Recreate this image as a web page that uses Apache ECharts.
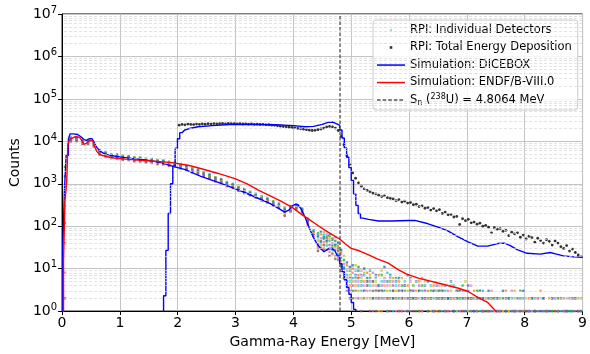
<!DOCTYPE html>
<html>
<head>
<meta charset="utf-8">
<script src="https://cdn.jsdelivr.net/npm/echarts@6/dist/echarts.min.js"></script>
<style>
  html, body { margin: 0; padding: 0; background: #fff; }
  #chart { width: 590px; height: 354px; }
</style>
</head>
<body>
<div id="chart"></div>
<script>
// DICEBOX, single detector response (step edges kept where the histogram is steep)
const dicDetE = [0.01,0.01,0.04,0.04,0.07,0.07,0.11,0.11,0.14,0.14,
  0.2,0.27,0.32,0.38,0.42,0.47,0.52,0.56,0.6,0.65,
  0.72,0.8,0.9,1.0,1.2,1.44,1.6,1.78,1.95,2.13,
  2.4,2.7,3.0,3.2,3.4,3.6,3.75,3.85,3.92,3.98,
  4.04,4.08,4.13,4.2,4.27,4.33,4.4,4.47,4.53,4.6,
  4.66,4.72,4.76,4.8,4.8,4.84,4.84,4.88,4.88,4.92,
  4.92,4.96,4.96,5.0,5.0,5.04,5.04,5.08,5.08];
const dicDetY = [0.1,25,25,650,650,4700,4700,11500,11500,15000,
  15000,14500,13000,11000,10500,11500,11500,9000,7200,6000,
  5200,4800,4500,4300,3950,3650,3380,2950,2500,2150,
  1500,1080,760,590,450,340,260,215,240,300,
  330,320,260,165,95,60,40,30,25,29,
  30,26,20,20,13,13,8.5,8.5,5.5,5.5,
  3.6,3.6,2.5,2.5,1.6,1.6,1.1,1.1,0.1];

// DICEBOX, total energy deposition
const dicTotE = [1.755,1.755,1.795,1.795,1.835,1.835,1.875,1.875,1.915,1.915,
  1.955,1.955,1.995,1.995,2.035,2.035,2.075,2.12,2.2,2.35,
  2.6,2.9,3.3,3.7,4.0,4.2,4.35,4.5,4.6,4.68,
  4.74,4.8,4.8,4.84,4.84,4.88,4.88,4.92,4.92,4.96,
  4.96,5.0,5.0,5.04,5.04,5.08,5.08,5.12,5.12,5.16,
  5.16,5.2,5.3,5.47,5.7,5.99,6.1,6.33,6.5,6.67,
  6.85,7.02,7.19,7.36,7.53,7.65,7.75,7.87,8.04,8.27,
  8.44,8.55,8.67,8.85,9.0];
const dicTotY = [0.1,2.3,2.3,27,27,200,200,1000,1000,2600,
  2600,6900,6900,11500,11500,16000,16000,18500,20000,22000,
  23500,25000,25000,24500,23500,22000,22500,25000,28000,28500,
  26000,24000,18500,18500,12000,12000,7000,7000,4200,4200,
  2400,2400,1200,1200,580,580,310,310,200,200,
  155,155,145,133,133,136,137,114,95,78,
  56,43,34,34,39,40,35,28,23,22,
  24,22,20,19,18.5];

// ENDF/B-VIII.0 simulation
const endfE = [0.025,0.025,0.05,0.05,0.08,0.08,0.1,0.1,0.13,0.13,
  0.16,0.16,0.22,0.3,0.34,0.38,0.42,0.47,0.53,0.56,
  0.6,0.65,0.75,0.9,1.1,1.3,1.6,1.9,2.2,2.44,
  2.7,3.0,3.2,3.41,3.6,3.8,3.99,4.14,4.27,4.4,
  4.55,4.7,4.8,4.9,5.0,5.15,5.3,5.45,5.64,5.81,
  5.95,6.16,6.5,6.84,7.02,7.19,7.36,7.47,7.55,7.65];
const endfY = [0.1,15,15,400,400,1100,1100,8500,8500,11000,
  11000,12200,12800,12500,10500,8500,9000,10300,10500,7800,
  5800,4900,4400,4050,3800,3600,3380,3150,2700,2200,
  1750,1300,1000,690,520,380,270,190,145,110,
  80,60,50,38,30,26,21,17,13.5,9.5,
  7.5,6.0,4.6,3.5,2.9,2.1,1.6,1.1,0.85,0.6];

// RPI total energy deposition (black dots)
const totE = [2.025,2.075,2.125,2.175,2.225,2.275,2.325,2.375,2.425,2.475,
  2.525,2.575,2.625,2.675,2.725,2.775,2.825,2.875,2.925,2.975,
  3.025,3.075,3.125,3.175,3.225,3.275,3.325,3.375,3.425,3.475,
  3.525,3.575,3.625,3.675,3.725,3.775,3.825,3.875,3.925,3.975,
  4.025,4.075,4.125,4.175,4.225,4.275,4.325,4.375,4.425,4.475,
  4.525,4.575,4.625,4.675,4.725,4.775,4.825,4.875,4.925,4.975,
  5.025,5.075,5.125,5.175,5.225,5.275,5.325,5.375,5.425,5.475,
  5.525,5.575,5.625,5.675,5.725,5.775,5.825,5.875,5.925,5.975,
  6.025,6.075,6.125,6.175,6.225,6.275,6.325,6.375,6.425,6.475,
  6.525,6.575,6.625,6.675,6.725,6.775,6.825,6.875,6.925,6.975,
  7.025,7.075,7.125,7.175,7.225,7.275,7.325,7.375,7.425,7.475,
  7.525,7.575,7.625,7.675,7.725,7.775,7.825,7.875,7.925,7.975,
  8.025,8.075,8.125,8.175,8.225,8.275,8.325,8.375,8.425,8.475,
  8.525,8.575,8.625,8.675,8.725,8.775,8.825,8.875,8.925,8.975];
const totY = [24000,25000,24500,25500,25000,24800,25500,25200,25800,25300,
  26000,25500,26200,25800,26000,26300,25900,26400,26000,26200,
  25800,26100,25600,25900,25400,25700,25200,25400,24900,25100,
  24500,24600,24000,23800,23200,22800,22300,22000,21500,21200,
  20800,20300,19800,19300,18800,18300,18000,18200,18800,19500,
  20500,21800,22500,22000,20500,18000,13000,8300,4600,2900,
  1800,1350,1050,880,760,700,650,600,580,540,
  500,520,470,455,440,400,420,370,390,350,
  360,320,330,290,300,265,275,240,260,230,
  245,200,215,185,190,165,170,110,150,135,
  145,120,125,112,118,100,105,95,70,92,
  85,88,76,80,60,72,66,70,55,62,
  50,58,54,42,52,46,40,48,44,36,
  45,40,33,30,35,26,29,24,21,19];

// RPI individual detectors: energy bins and counts (0 = empty bin)
const detE = [0.05,0.15,0.25,0.35,0.45,0.55,0.65,0.75,0.85,0.95,
  1.05,1.15,1.25,1.35,1.45,1.55,1.65,1.75,1.85,1.95,
  2.05,2.15,2.25,2.35,2.45,2.55,2.65,2.75,2.85,2.95,
  3.05,3.15,3.25,3.35,3.45,3.55,3.65,3.75,3.85,3.95,
  4.05,4.15,4.25,4.35,
  4.425,4.475,4.525,4.575,4.625,4.675,4.725,4.775,4.825,4.875,4.925,4.975,
  5.025,5.075,5.125,5.175,5.225,5.275,
  5.325,5.375,5.425,5.475,5.525,5.575,5.625,5.675,5.725,5.775,
  5.825,5.875,5.925,5.975,6.025,6.075,6.125,6.175,6.225,6.275,6.325,6.375,6.425,6.475,
  6.525,6.575,6.625,6.675,6.725,6.775,6.825,6.875,6.925,6.975,
  7.025,7.075,7.125,7.175,7.225,7.275,7.325,7.375,7.425,7.475,
  7.525,7.575,7.625,7.675,7.725,7.775,7.825,7.875,7.925,7.975,
  8.025,8.075,8.125,8.175,8.225,8.275,8.325,8.375,8.425,8.475,
  8.525,8.575,8.625,8.675,8.725,8.775,8.825,8.875,8.925,8.975];

const det1 = [900,11700,11500,10100,9800,8800,5600,5200,4550,4600,
  4150,4240,3850,3920,3550,3630,3300,3340,3000,3020,
  2650,2490,2100,2010,1700,1570,1300,1220,1000,930,
  770,710,590,550,460,430,350,320,240,280,
  290,245,130,75,
  55,40,62,35, 45,28,38,22, 18,11,7,5,
  6,9,4,3,7,5,
  4,2,6,3,5,2,8,3,1,4,
  3,2,5,1,3,4,2,0,3,2,1,4,2,3,
  2,1,3,0,2,4,1,2,0,3,1,2,2,0,1,3,0,2,1,0,
  1,2,0,1,0,2,1,0,0,2,1,0,1,0,2,0,1,0,0,1,2,0,1,0,0,1,0,2,0,1];
const det2 = [40,10700,10600,9200,9000,8050,5150,4750,4200,4200,
  3820,3880,3540,3590,3270,3320,3040,3060,2760,2760,
  2440,2280,1930,1840,1560,1440,1200,1120,920,850,
  710,650,540,500,420,390,320,290,190,240,
  265,220,115,65,
  38,65,30,48, 30,52,20,34, 25,8,12,4,
  10,4,7,2,5,8,
  2,5,3,7,1,4,2,6,3,2,
  5,1,2,4,2,0,3,5,1,2,3,0,4,1,
  3,2,0,1,4,2,0,3,1,2,0,2,3,1,0,2,1,0,2,1,
  2,0,1,3,1,0,2,0,1,1,0,2,0,1,0,3,0,1,2,0,0,1,0,2,1,0,1,0,0,2];
const det3 = [2500,11400,12700,9900,10800,8600,6200,5100,5000,4500,
  4570,4160,4240,3850,3910,3560,3630,3280,3300,2960,
  2920,2440,2310,1980,1870,1540,1430,1200,1100,920,
  850,700,650,540,510,420,390,310,280,275,
  320,240,150,72,
  68,45,50,58, 58,35,45,30, 12,16,5,9,
  3,6,11,5,2,4,
  6,3,2,4,7,3,1,5,2,6,
  2,4,3,0,6,2,1,3,4,0,2,3,1,2,
  1,3,2,2,0,1,3,2,4,0,2,1,0,3,2,1,0,1,2,0,
  0,1,2,0,2,1,0,1,3,0,1,0,2,1,0,0,2,1,0,1,0,2,0,1,0,1,2,0,1,0];
const det4 = [8,11200,10900,9700,9300,8500,5300,5000,4300,4400,
  3940,4080,3660,3770,3370,3490,3140,3210,2850,2910,
  2520,2400,2000,1940,1620,1510,1240,1170,950,900,
  730,680,560,530,440,410,330,310,210,270,
  275,235,120,70,
  30,52,42,66, 25,40,55,18, 22,13,9,3,
  8,2,5,9,4,3,
  3,8,4,2,3,6,4,2,5,1,
  4,3,1,2,5,3,0,2,6,3,0,2,3,0,
  4,0,2,3,1,0,2,1,3,1,0,4,1,2,0,1,2,0,3,1,
  1,0,0,2,1,3,0,1,2,0,0,1,1,0,2,1,0,0,1,0,2,0,0,1,1,0,2,0,1,1];
const det5 = [300,10900,12400,9400,10600,8200,6050,4850,4900,4300,
  4480,3960,4160,3660,3830,3390,3560,3120,3240,2820,
  2860,2330,2270,1880,1840,1470,1400,1140,1080,870,
  830,660,640,510,500,400,380,300,260,260,
  310,230,140,68,
  46,35,72,40, 50,24,32,42, 15,20,6,7,
  5,12,3,6,8,2,
  7,4,5,1,9,2,3,4,6,3,
  1,6,2,3,0,4,2,1,2,5,2,1,0,3,
  2,4,1,0,3,2,1,0,2,5,1,0,2,1,3,0,2,1,0,2,
  0,2,1,0,1,0,3,0,1,0,2,1,0,0,1,2,0,1,0,0,1,1,0,0,2,0,1,0,2,0];
const det6 = [2,10300,10100,8900,8600,7800,4900,4600,4000,4100,
  3650,3760,3390,3480,3120,3210,2900,2960,2640,2680,
  2330,2210,1850,1790,1500,1390,1140,1080,880,830,
  680,630,520,490,400,380,310,280,175,230,
  255,215,110,62,
  26,30,36,28, 20,30,17,26, 9,6,4,2,
  2,3,6,1,3,5,
  1,2,1,3,2,0,2,1,3,0,
  1,2,0,1,2,1,0,1,0,2,1,0,1,0,
  1,0,1,2,0,1,0,0,1,0,2,0,1,0,0,1,0,1,0,0,
  1,0,0,1,0,0,1,0,0,0,1,0,0,1,0,0,0,1,0,0,1,0,0,0,1,0,0,0,1,0];
const det7 = [1500,12300,11800,10600,10100,9300,5800,5500,4700,4900,
  4270,4480,3970,4140,3660,3830,3400,3530,3090,3190,
  2730,2630,2160,2130,1750,1660,1340,1290,1030,990,
  790,750,610,580,470,450,360,340,250,300,
  300,260,135,80,
  60,75,55,45, 62,48,36,40, 28,10,14,11,
  12,7,9,4,10,6,
  9,5,7,4,3,11,5,7,2,5,
  6,3,4,7,3,2,5,3,2,4,5,2,3,4,
  3,2,4,2,5,1,2,3,2,1,4,2,1,2,3,2,1,3,0,2,
  2,1,3,1,2,0,1,2,1,3,0,1,2,1,0,1,2,0,1,2,0,1,2,0,1,0,1,2,0,1];
const det8 = [120,9900,11200,8600,9500,7500,5400,4400,4400,3900,
  4030,3600,3730,3330,3440,3080,3200,2840,2910,2570,
  2570,2120,2040,1710,1650,1330,1260,1040,970,790,
  750,600,570,470,450,360,340,270,220,220,
  280,205,125,60,
  34,44,28,52, 36,22,28,16, 11,7,3,6,
  4,5,2,7,3,4,
  5,1,3,2,4,5,1,2,4,2,
  3,1,4,2,1,3,2,4,1,3,0,2,1,2,
  2,3,1,1,2,0,3,1,0,2,3,1,0,1,2,1,0,2,1,0,
  1,1,0,2,0,1,1,0,2,1,0,1,0,2,1,0,1,0,0,2,0,1,0,1,0,2,0,1,0,0];
const detectors = [det1, det2, det3, det4, det5, det6, det7, det8];
const detColors = ['#17becf', '#ff7f0e', '#2ca02c', '#e377c2', '#bcbd22', '#8c564b', '#1f77b4', '#9467bd'];

const snEnergy = 4.8064;
const xTicks = [0, 1, 2, 3, 4, 5, 6, 7, 8, 9];

const NAME_DET = 'RPI: Individual Detectors';
const NAME_TOT = 'RPI: Total Energy Deposition';
const NAME_DIC = 'Simulation: DICEBOX';
const NAME_ENDF = 'Simulation: ENDF/B-VIII.0';
const NAME_SN = 'Sn';

const FONT = 'DejaVu Sans';
const pairs = (xs, ys) => xs.map((x, i) => [x, ys[i]]);

// legend glyphs (a 28x14 box so the icons keep their size)
const BOX = 'path://M0,0M28,14';
const ICON_DOT_S = BOX + 'M13.2,6.2h1.6v1.6h-1.6z';
const ICON_DOT_L = BOX + 'M12.7,5.7h2.6v2.6h-2.6z';
const ICON_LINE = BOX + 'M0,6.3h28v1.5h-28z';
const ICON_DASH = BOX + 'M0,6.4h3.6v1.2h-3.6zM5.6,6.4h3.6v1.2h-3.6zM11.2,6.4h3.6v1.2h-3.6zM16.8,6.4h3.6v1.2h-3.6zM22.4,6.4h3.6v1.2h-3.6z';

// matplotlib-style minor grid on the log axis (2..9 per decade)
const minorGrid = [];
for (let d = 1; d < 1e7; d *= 10) {
  for (let m = 2; m <= 9; m++) minorGrid.push({ yAxis: m * d });
}

const series = [];
series.push({
  type: 'line', data: [], silent: true, z: 0, symbol: 'none',
  markLine: {
    silent: true, symbol: ['none', 'none'], label: { show: false },
    lineStyle: { color: '#d6d6d6', type: [3, 2], dashOffset: 3, width: 0.7 },
    emphasis: { disabled: true },
    animation: false,
    data: minorGrid
  }
});
detectors.forEach((arr, k) => {
  series.push({
    name: NAME_DET, type: 'scatter', z: 2,
    symbol: 'rect', symbolSize: 2.4,
    itemStyle: { color: detColors[k] },
    data: detE.map((e, i) => arr[i] > 0 ? [e, arr[i]] : null).filter(Boolean)
  });
});
series.push({
  name: NAME_TOT, type: 'scatter', z: 3,
  symbol: 'circle', symbolSize: 2.8,
  itemStyle: { color: '#000' },
  data: pairs(totE, totY)
});
series.push({
  name: NAME_DIC, type: 'line', z: 4, showSymbol: false, symbol: 'none',
  lineStyle: { color: '#0000ff', width: 1.4 }, itemStyle: { color: '#0000ff' },
  data: pairs(dicDetE, dicDetY)
});
series.push({
  name: NAME_DIC, type: 'line', z: 4, showSymbol: false, symbol: 'none',
  lineStyle: { color: '#0000ff', width: 1.4 }, itemStyle: { color: '#0000ff' },
  data: pairs(dicTotE, dicTotY)
});
series.push({
  name: NAME_ENDF, type: 'line', z: 5, showSymbol: false, symbol: 'none',
  lineStyle: { color: '#ff0000', width: 1.4 }, itemStyle: { color: '#ff0000' },
  data: pairs(endfE, endfY)
});
series.push({
  name: NAME_SN, type: 'line', z: 6, showSymbol: false, symbol: 'none',
  lineStyle: { color: '#404040', width: 1.2, type: [3.5, 2] }, itemStyle: { color: '#404040' },
  data: [[snEnergy, 1], [snEnergy, 1e7]]
});

const chart = echarts.init(document.getElementById('chart'), null, { renderer: 'canvas' });
chart.setOption({
  animation: false,
  backgroundColor: '#fff',
  textStyle: { fontFamily: FONT },
  grid: { left: 61, right: 5, top: 14, bottom: 39, show: true, borderColor: '#000', borderWidth: 1, backgroundColor: 'transparent' },
  legend: {
    left: 373, top: 20, orient: 'vertical',
    itemWidth: 28, itemHeight: 14, itemGap: 3.5,
    padding: [3, 6, 3, 4],
    backgroundColor: 'rgba(255,255,255,0.85)', borderColor: '#cccccc', borderWidth: 1, borderRadius: 3,
    selectedMode: false,
    textStyle: {
      fontFamily: FONT, fontSize: 11.5, color: '#000',
      rich: {
        t: { fontFamily: FONT, fontSize: 11.5, color: '#000', lineHeight: 14 },
        sub: { fontFamily: FONT, fontSize: 8, color: '#000', lineHeight: 8, verticalAlign: 'bottom' },
        sup: { fontFamily: FONT, fontSize: 8, color: '#000', lineHeight: 8, verticalAlign: 'top' }
      }
    },
    formatter: name => name === NAME_SN
      ? '{t|S}{sub|n}{t| (}{sup|238}{t|U) = 4.8064 MeV}'
      : name,
    data: [
      { name: NAME_DET, icon: ICON_DOT_S, itemStyle: { color: '#3aa0d8' } },
      { name: NAME_TOT, icon: ICON_DOT_L, itemStyle: { color: '#000' } },
      { name: NAME_DIC, icon: ICON_LINE, itemStyle: { color: '#0000ff' } },
      { name: NAME_ENDF, icon: ICON_LINE, itemStyle: { color: '#ff0000' } },
      { name: NAME_SN, icon: ICON_DASH, itemStyle: { color: '#000' } }
    ]
  },
  xAxis: {
    type: 'value', min: 0, max: 9, interval: 1,
    name: 'Gamma-Ray Energy [MeV]', nameLocation: 'middle', nameGap: 18,
    nameTextStyle: { fontFamily: FONT, fontSize: 14, color: '#000' },
    axisLine: { show: true, onZero: false, lineStyle: { color: '#000', width: 1 } },
    axisTick: { show: true, inside: false, length: 4, lineStyle: { color: '#000' } },
    axisLabel: { fontFamily: FONT, fontSize: 14, color: '#000', margin: 5,
      formatter: v => xTicks.includes(v) ? String(v) : '' },
    splitLine: { show: true, lineStyle: { color: '#c4c4c4', width: 1 } }
  },
  yAxis: {
    type: 'log', logBase: 10, min: 1, max: 1e7, splitNumber: 7,
    name: 'Counts', nameLocation: 'middle', nameGap: 33,
    nameTextStyle: { fontFamily: FONT, fontSize: 14, color: '#000' },
    axisLine: { show: true, lineStyle: { color: '#000', width: 1 } },
    axisTick: { show: true, inside: false, length: 4, lineStyle: { color: '#000' } },
    axisLabel: {
      margin: 5, color: '#000',
      formatter: v => '{b|10}{sup|' + Math.round(Math.log10(v)) + '}',
      rich: {
        b: { fontFamily: FONT, fontSize: 14, color: '#000', lineHeight: 18 },
        sup: { fontFamily: FONT, fontSize: 10, color: '#000', lineHeight: 10, verticalAlign: 'top' }
      }
    },
    splitLine: { show: true, lineStyle: { color: '#c4c4c4', width: 1 } }
  },
  series: series
});
</script>
</body>
</html>
